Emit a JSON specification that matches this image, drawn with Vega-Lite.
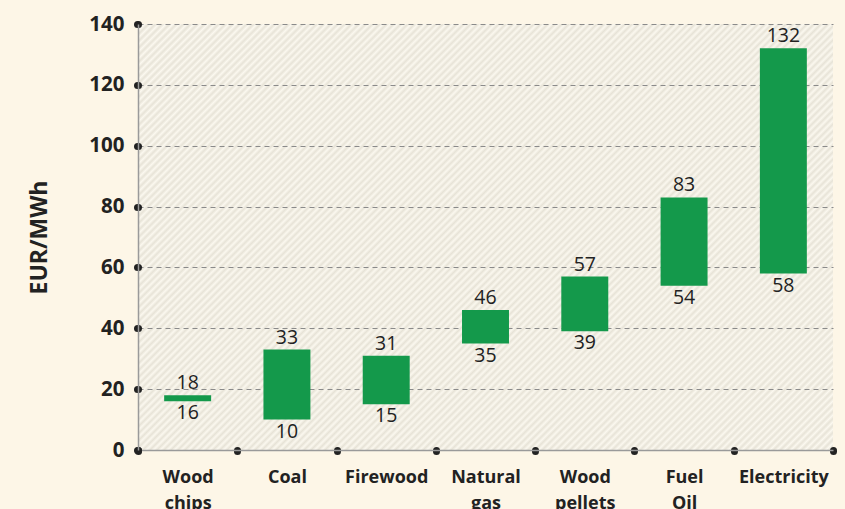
{
  "$schema": "https://vega.github.io/schema/vega-lite/v6.json",
  "width": 695,
  "height": 426,
  "autosize": {"type": "none"},
  "padding": {"left": 138, "top": 24, "right": 12, "bottom": 59},
  "background": "#fdf6e7",
  "config": {
    "view": {"stroke": null, "fill": {"gradient": "linear", "x1": 0, "y1": 0, "x2": 1.17245, "y2": 0.71866, "stops": [
{"offset":0,"color":"#fbf8ef"},{"offset":0.003125,"color":"#e7e3d7"},{"offset":0.00625,"color":"#fbf8ef"},{"offset":0.009375,"color":"#e7e3d7"},{"offset":0.0125,"color":"#fbf8ef"},{"offset":0.015625,"color":"#e7e3d7"},{"offset":0.01875,"color":"#fbf8ef"},{"offset":0.021875,"color":"#e7e3d7"},
{"offset":0.025,"color":"#fbf8ef"},{"offset":0.028125,"color":"#e7e3d7"},{"offset":0.03125,"color":"#fbf8ef"},{"offset":0.034375,"color":"#e7e3d7"},{"offset":0.0375,"color":"#fbf8ef"},{"offset":0.040625,"color":"#e7e3d7"},{"offset":0.04375,"color":"#fbf8ef"},{"offset":0.046875,"color":"#e7e3d7"},
{"offset":0.05,"color":"#fbf8ef"},{"offset":0.053125,"color":"#e7e3d7"},{"offset":0.05625,"color":"#fbf8ef"},{"offset":0.059375,"color":"#e7e3d7"},{"offset":0.0625,"color":"#fbf8ef"},{"offset":0.065625,"color":"#e7e3d7"},{"offset":0.06875,"color":"#fbf8ef"},{"offset":0.071875,"color":"#e7e3d7"},
{"offset":0.075,"color":"#fbf8ef"},{"offset":0.078125,"color":"#e7e3d7"},{"offset":0.08125,"color":"#fbf8ef"},{"offset":0.084375,"color":"#e7e3d7"},{"offset":0.0875,"color":"#fbf8ef"},{"offset":0.090625,"color":"#e7e3d7"},{"offset":0.09375,"color":"#fbf8ef"},{"offset":0.096875,"color":"#e7e3d7"},
{"offset":0.1,"color":"#fbf8ef"},{"offset":0.103125,"color":"#e7e3d7"},{"offset":0.10625,"color":"#fbf8ef"},{"offset":0.109375,"color":"#e7e3d7"},{"offset":0.1125,"color":"#fbf8ef"},{"offset":0.115625,"color":"#e7e3d7"},{"offset":0.11875,"color":"#fbf8ef"},{"offset":0.121875,"color":"#e7e3d7"},
{"offset":0.125,"color":"#fbf8ef"},{"offset":0.128125,"color":"#e7e3d7"},{"offset":0.13125,"color":"#fbf8ef"},{"offset":0.134375,"color":"#e7e3d7"},{"offset":0.1375,"color":"#fbf8ef"},{"offset":0.140625,"color":"#e7e3d7"},{"offset":0.14375,"color":"#fbf8ef"},{"offset":0.146875,"color":"#e7e3d7"},
{"offset":0.15,"color":"#fbf8ef"},{"offset":0.153125,"color":"#e7e3d7"},{"offset":0.15625,"color":"#fbf8ef"},{"offset":0.159375,"color":"#e7e3d7"},{"offset":0.1625,"color":"#fbf8ef"},{"offset":0.165625,"color":"#e7e3d7"},{"offset":0.16875,"color":"#fbf8ef"},{"offset":0.171875,"color":"#e7e3d7"},
{"offset":0.175,"color":"#fbf8ef"},{"offset":0.178125,"color":"#e7e3d7"},{"offset":0.18125,"color":"#fbf8ef"},{"offset":0.184375,"color":"#e7e3d7"},{"offset":0.1875,"color":"#fbf8ef"},{"offset":0.190625,"color":"#e7e3d7"},{"offset":0.19375,"color":"#fbf8ef"},{"offset":0.196875,"color":"#e7e3d7"},
{"offset":0.2,"color":"#fbf8ef"},{"offset":0.203125,"color":"#e7e3d7"},{"offset":0.20625,"color":"#fbf8ef"},{"offset":0.209375,"color":"#e7e3d7"},{"offset":0.2125,"color":"#fbf8ef"},{"offset":0.215625,"color":"#e7e3d7"},{"offset":0.21875,"color":"#fbf8ef"},{"offset":0.221875,"color":"#e7e3d7"},
{"offset":0.225,"color":"#fbf8ef"},{"offset":0.228125,"color":"#e7e3d7"},{"offset":0.23125,"color":"#fbf8ef"},{"offset":0.234375,"color":"#e7e3d7"},{"offset":0.2375,"color":"#fbf8ef"},{"offset":0.240625,"color":"#e7e3d7"},{"offset":0.24375,"color":"#fbf8ef"},{"offset":0.246875,"color":"#e7e3d7"},
{"offset":0.25,"color":"#fbf8ef"},{"offset":0.253125,"color":"#e7e3d7"},{"offset":0.25625,"color":"#fbf8ef"},{"offset":0.259375,"color":"#e7e3d7"},{"offset":0.2625,"color":"#fbf8ef"},{"offset":0.265625,"color":"#e7e3d7"},{"offset":0.26875,"color":"#fbf8ef"},{"offset":0.271875,"color":"#e7e3d7"},
{"offset":0.275,"color":"#fbf8ef"},{"offset":0.278125,"color":"#e7e3d7"},{"offset":0.28125,"color":"#fbf8ef"},{"offset":0.284375,"color":"#e7e3d7"},{"offset":0.2875,"color":"#fbf8ef"},{"offset":0.290625,"color":"#e7e3d7"},{"offset":0.29375,"color":"#fbf8ef"},{"offset":0.296875,"color":"#e7e3d7"},
{"offset":0.3,"color":"#fbf8ef"},{"offset":0.303125,"color":"#e7e3d7"},{"offset":0.30625,"color":"#fbf8ef"},{"offset":0.309375,"color":"#e7e3d7"},{"offset":0.3125,"color":"#fbf8ef"},{"offset":0.315625,"color":"#e7e3d7"},{"offset":0.31875,"color":"#fbf8ef"},{"offset":0.321875,"color":"#e7e3d7"},
{"offset":0.325,"color":"#fbf8ef"},{"offset":0.328125,"color":"#e7e3d7"},{"offset":0.33125,"color":"#fbf8ef"},{"offset":0.334375,"color":"#e7e3d7"},{"offset":0.3375,"color":"#fbf8ef"},{"offset":0.340625,"color":"#e7e3d7"},{"offset":0.34375,"color":"#fbf8ef"},{"offset":0.346875,"color":"#e7e3d7"},
{"offset":0.35,"color":"#fbf8ef"},{"offset":0.353125,"color":"#e7e3d7"},{"offset":0.35625,"color":"#fbf8ef"},{"offset":0.359375,"color":"#e7e3d7"},{"offset":0.3625,"color":"#fbf8ef"},{"offset":0.365625,"color":"#e7e3d7"},{"offset":0.36875,"color":"#fbf8ef"},{"offset":0.371875,"color":"#e7e3d7"},
{"offset":0.375,"color":"#fbf8ef"},{"offset":0.378125,"color":"#e7e3d7"},{"offset":0.38125,"color":"#fbf8ef"},{"offset":0.384375,"color":"#e7e3d7"},{"offset":0.3875,"color":"#fbf8ef"},{"offset":0.390625,"color":"#e7e3d7"},{"offset":0.39375,"color":"#fbf8ef"},{"offset":0.396875,"color":"#e7e3d7"},
{"offset":0.4,"color":"#fbf8ef"},{"offset":0.403125,"color":"#e7e3d7"},{"offset":0.40625,"color":"#fbf8ef"},{"offset":0.409375,"color":"#e7e3d7"},{"offset":0.4125,"color":"#fbf8ef"},{"offset":0.415625,"color":"#e7e3d7"},{"offset":0.41875,"color":"#fbf8ef"},{"offset":0.421875,"color":"#e7e3d7"},
{"offset":0.425,"color":"#fbf8ef"},{"offset":0.428125,"color":"#e7e3d7"},{"offset":0.43125,"color":"#fbf8ef"},{"offset":0.434375,"color":"#e7e3d7"},{"offset":0.4375,"color":"#fbf8ef"},{"offset":0.440625,"color":"#e7e3d7"},{"offset":0.44375,"color":"#fbf8ef"},{"offset":0.446875,"color":"#e7e3d7"},
{"offset":0.45,"color":"#fbf8ef"},{"offset":0.453125,"color":"#e7e3d7"},{"offset":0.45625,"color":"#fbf8ef"},{"offset":0.459375,"color":"#e7e3d7"},{"offset":0.4625,"color":"#fbf8ef"},{"offset":0.465625,"color":"#e7e3d7"},{"offset":0.46875,"color":"#fbf8ef"},{"offset":0.471875,"color":"#e7e3d7"},
{"offset":0.475,"color":"#fbf8ef"},{"offset":0.478125,"color":"#e7e3d7"},{"offset":0.48125,"color":"#fbf8ef"},{"offset":0.484375,"color":"#e7e3d7"},{"offset":0.4875,"color":"#fbf8ef"},{"offset":0.490625,"color":"#e7e3d7"},{"offset":0.49375,"color":"#fbf8ef"},{"offset":0.496875,"color":"#e7e3d7"},
{"offset":0.5,"color":"#fbf8ef"},{"offset":0.503125,"color":"#e7e3d7"},{"offset":0.50625,"color":"#fbf8ef"},{"offset":0.509375,"color":"#e7e3d7"},{"offset":0.5125,"color":"#fbf8ef"},{"offset":0.515625,"color":"#e7e3d7"},{"offset":0.51875,"color":"#fbf8ef"},{"offset":0.521875,"color":"#e7e3d7"},
{"offset":0.525,"color":"#fbf8ef"},{"offset":0.528125,"color":"#e7e3d7"},{"offset":0.53125,"color":"#fbf8ef"},{"offset":0.534375,"color":"#e7e3d7"},{"offset":0.5375,"color":"#fbf8ef"},{"offset":0.540625,"color":"#e7e3d7"},{"offset":0.54375,"color":"#fbf8ef"},{"offset":0.546875,"color":"#e7e3d7"},
{"offset":0.55,"color":"#fbf8ef"},{"offset":0.553125,"color":"#e7e3d7"},{"offset":0.55625,"color":"#fbf8ef"},{"offset":0.559375,"color":"#e7e3d7"},{"offset":0.5625,"color":"#fbf8ef"},{"offset":0.565625,"color":"#e7e3d7"},{"offset":0.56875,"color":"#fbf8ef"},{"offset":0.571875,"color":"#e7e3d7"},
{"offset":0.575,"color":"#fbf8ef"},{"offset":0.578125,"color":"#e7e3d7"},{"offset":0.58125,"color":"#fbf8ef"},{"offset":0.584375,"color":"#e7e3d7"},{"offset":0.5875,"color":"#fbf8ef"},{"offset":0.590625,"color":"#e7e3d7"},{"offset":0.59375,"color":"#fbf8ef"},{"offset":0.596875,"color":"#e7e3d7"},
{"offset":0.6,"color":"#fbf8ef"},{"offset":0.603125,"color":"#e7e3d7"},{"offset":0.60625,"color":"#fbf8ef"},{"offset":0.609375,"color":"#e7e3d7"},{"offset":0.6125,"color":"#fbf8ef"},{"offset":0.615625,"color":"#e7e3d7"},{"offset":0.61875,"color":"#fbf8ef"},{"offset":0.621875,"color":"#e7e3d7"},
{"offset":0.625,"color":"#fbf8ef"},{"offset":0.628125,"color":"#e7e3d7"},{"offset":0.63125,"color":"#fbf8ef"},{"offset":0.634375,"color":"#e7e3d7"},{"offset":0.6375,"color":"#fbf8ef"},{"offset":0.640625,"color":"#e7e3d7"},{"offset":0.64375,"color":"#fbf8ef"},{"offset":0.646875,"color":"#e7e3d7"},
{"offset":0.65,"color":"#fbf8ef"},{"offset":0.653125,"color":"#e7e3d7"},{"offset":0.65625,"color":"#fbf8ef"},{"offset":0.659375,"color":"#e7e3d7"},{"offset":0.6625,"color":"#fbf8ef"},{"offset":0.665625,"color":"#e7e3d7"},{"offset":0.66875,"color":"#fbf8ef"},{"offset":0.671875,"color":"#e7e3d7"},
{"offset":0.675,"color":"#fbf8ef"},{"offset":0.678125,"color":"#e7e3d7"},{"offset":0.68125,"color":"#fbf8ef"},{"offset":0.684375,"color":"#e7e3d7"},{"offset":0.6875,"color":"#fbf8ef"},{"offset":0.690625,"color":"#e7e3d7"},{"offset":0.69375,"color":"#fbf8ef"},{"offset":0.696875,"color":"#e7e3d7"},
{"offset":0.7,"color":"#fbf8ef"},{"offset":0.703125,"color":"#e7e3d7"},{"offset":0.70625,"color":"#fbf8ef"},{"offset":0.709375,"color":"#e7e3d7"},{"offset":0.7125,"color":"#fbf8ef"},{"offset":0.715625,"color":"#e7e3d7"},{"offset":0.71875,"color":"#fbf8ef"},{"offset":0.721875,"color":"#e7e3d7"},
{"offset":0.725,"color":"#fbf8ef"},{"offset":0.728125,"color":"#e7e3d7"},{"offset":0.73125,"color":"#fbf8ef"},{"offset":0.734375,"color":"#e7e3d7"},{"offset":0.7375,"color":"#fbf8ef"},{"offset":0.740625,"color":"#e7e3d7"},{"offset":0.74375,"color":"#fbf8ef"},{"offset":0.746875,"color":"#e7e3d7"},
{"offset":0.75,"color":"#fbf8ef"},{"offset":0.753125,"color":"#e7e3d7"},{"offset":0.75625,"color":"#fbf8ef"},{"offset":0.759375,"color":"#e7e3d7"},{"offset":0.7625,"color":"#fbf8ef"},{"offset":0.765625,"color":"#e7e3d7"},{"offset":0.76875,"color":"#fbf8ef"},{"offset":0.771875,"color":"#e7e3d7"},
{"offset":0.775,"color":"#fbf8ef"},{"offset":0.778125,"color":"#e7e3d7"},{"offset":0.78125,"color":"#fbf8ef"},{"offset":0.784375,"color":"#e7e3d7"},{"offset":0.7875,"color":"#fbf8ef"},{"offset":0.790625,"color":"#e7e3d7"},{"offset":0.79375,"color":"#fbf8ef"},{"offset":0.796875,"color":"#e7e3d7"},
{"offset":0.8,"color":"#fbf8ef"},{"offset":0.803125,"color":"#e7e3d7"},{"offset":0.80625,"color":"#fbf8ef"},{"offset":0.809375,"color":"#e7e3d7"},{"offset":0.8125,"color":"#fbf8ef"},{"offset":0.815625,"color":"#e7e3d7"},{"offset":0.81875,"color":"#fbf8ef"},{"offset":0.821875,"color":"#e7e3d7"},
{"offset":0.825,"color":"#fbf8ef"},{"offset":0.828125,"color":"#e7e3d7"},{"offset":0.83125,"color":"#fbf8ef"},{"offset":0.834375,"color":"#e7e3d7"},{"offset":0.8375,"color":"#fbf8ef"},{"offset":0.840625,"color":"#e7e3d7"},{"offset":0.84375,"color":"#fbf8ef"},{"offset":0.846875,"color":"#e7e3d7"},
{"offset":0.85,"color":"#fbf8ef"},{"offset":0.853125,"color":"#e7e3d7"},{"offset":0.85625,"color":"#fbf8ef"},{"offset":0.859375,"color":"#e7e3d7"},{"offset":0.8625,"color":"#fbf8ef"},{"offset":0.865625,"color":"#e7e3d7"},{"offset":0.86875,"color":"#fbf8ef"},{"offset":0.871875,"color":"#e7e3d7"},
{"offset":0.875,"color":"#fbf8ef"},{"offset":0.878125,"color":"#e7e3d7"},{"offset":0.88125,"color":"#fbf8ef"},{"offset":0.884375,"color":"#e7e3d7"},{"offset":0.8875,"color":"#fbf8ef"},{"offset":0.890625,"color":"#e7e3d7"},{"offset":0.89375,"color":"#fbf8ef"},{"offset":0.896875,"color":"#e7e3d7"},
{"offset":0.9,"color":"#fbf8ef"},{"offset":0.903125,"color":"#e7e3d7"},{"offset":0.90625,"color":"#fbf8ef"},{"offset":0.909375,"color":"#e7e3d7"},{"offset":0.9125,"color":"#fbf8ef"},{"offset":0.915625,"color":"#e7e3d7"},{"offset":0.91875,"color":"#fbf8ef"},{"offset":0.921875,"color":"#e7e3d7"},
{"offset":0.925,"color":"#fbf8ef"},{"offset":0.928125,"color":"#e7e3d7"},{"offset":0.93125,"color":"#fbf8ef"},{"offset":0.934375,"color":"#e7e3d7"},{"offset":0.9375,"color":"#fbf8ef"},{"offset":0.940625,"color":"#e7e3d7"},{"offset":0.94375,"color":"#fbf8ef"},{"offset":0.946875,"color":"#e7e3d7"},
{"offset":0.95,"color":"#fbf8ef"},{"offset":0.953125,"color":"#e7e3d7"},{"offset":0.95625,"color":"#fbf8ef"},{"offset":0.959375,"color":"#e7e3d7"},{"offset":0.9625,"color":"#fbf8ef"},{"offset":0.965625,"color":"#e7e3d7"},{"offset":0.96875,"color":"#fbf8ef"},{"offset":0.971875,"color":"#e7e3d7"},
{"offset":0.975,"color":"#fbf8ef"},{"offset":0.978125,"color":"#e7e3d7"},{"offset":0.98125,"color":"#fbf8ef"},{"offset":0.984375,"color":"#e7e3d7"},{"offset":0.9875,"color":"#fbf8ef"},{"offset":0.990625,"color":"#e7e3d7"},{"offset":0.99375,"color":"#fbf8ef"},{"offset":0.996875,"color":"#e7e3d7"},
{"offset":1,"color":"#fbf8ef"}
    ]}},
    "font": "Open Sans"
  },
  "data": {
    "values": [
      {"fuel": "Wood chips", "low": 16, "high": 18},
      {"fuel": "Coal", "low": 10, "high": 33},
      {"fuel": "Firewood", "low": 15, "high": 31},
      {"fuel": "Natural gas", "low": 35, "high": 46},
      {"fuel": "Wood pellets", "low": 39, "high": 57},
      {"fuel": "Fuel Oil", "low": 54, "high": 83},
      {"fuel": "Electricity", "low": 58, "high": 132}
    ]
  },
  "encoding": {
    "x": {
      "field": "fuel",
      "type": "nominal",
      "sort": null,
      "scale": {"paddingInner": 0, "paddingOuter": 0},
      "axis": {
        "title": null,
        "labelAngle": 0,
        "labelExpr": "isString(datum.value) ? split(datum.value, ' ') : ''",
        "labelFont": "Open Sans",
        "labelFontWeight": "bold",
        "labelFontSize": 18,
        "labelColor": "#222222",
        "labelLineHeight": 26,
        "labelPadding": 17,
        "labelBaseline": "top",
        "domainColor": "#9a9a9a",
        "domainWidth": 1.5,
        "tickBand": "extent",
        "tickCap": "round",
        "tickWidth": 7,
        "tickSize": 1,
        "tickColor": "#222222",
        "grid": false
      }
    }
  },
  "layer": [
    {
      "mark": {"type": "bar", "color": "#14994b", "width": {"band": 0.473}},
      "encoding": {
        "y": {
          "field": "low",
          "type": "quantitative",
          "scale": {"domain": [0, 140], "nice": false},
          "axis": {
            "title": "EUR/MWh",
            "titleFont": "Open Sans",
            "titleFontSize": 23,
            "titleFontWeight": "bold",
            "titleColor": "#222222",
            "titlePadding": 37,
            "values": [0, 20, 40, 60, 80, 100, 120, 140],
            "labelFont": "Open Sans",
            "labelFontWeight": "bold",
            "labelFontSize": 20.5,
            "labelColor": "#222222",
            "labelPadding": 13,
            "domainColor": "#9a9a9a",
            "domainWidth": 1.5,
            "tickCap": "round",
            "tickWidth": 7,
            "tickSize": 1,
            "tickColor": "#222222",
            "grid": true,
            "gridColor": "#8a8a8a",
            "gridDash": [5, 4],
            "gridWidth": 1
          }
        },
        "y2": {"field": "high"}
      }
    },
    {
      "mark": {"type": "text", "baseline": "bottom", "dy": -2, "fontSize": 19.5, "font": "Open Sans", "color": "#222222"},
      "encoding": {
        "y": {"field": "high", "type": "quantitative"},
        "text": {"field": "high", "type": "quantitative"}
      }
    },
    {
      "mark": {"type": "text", "baseline": "top", "dy": 3, "fontSize": 19.5, "font": "Open Sans", "color": "#222222"},
      "encoding": {
        "y": {"field": "low", "type": "quantitative"},
        "text": {"field": "low", "type": "quantitative"}
      }
    }
  ]
}
